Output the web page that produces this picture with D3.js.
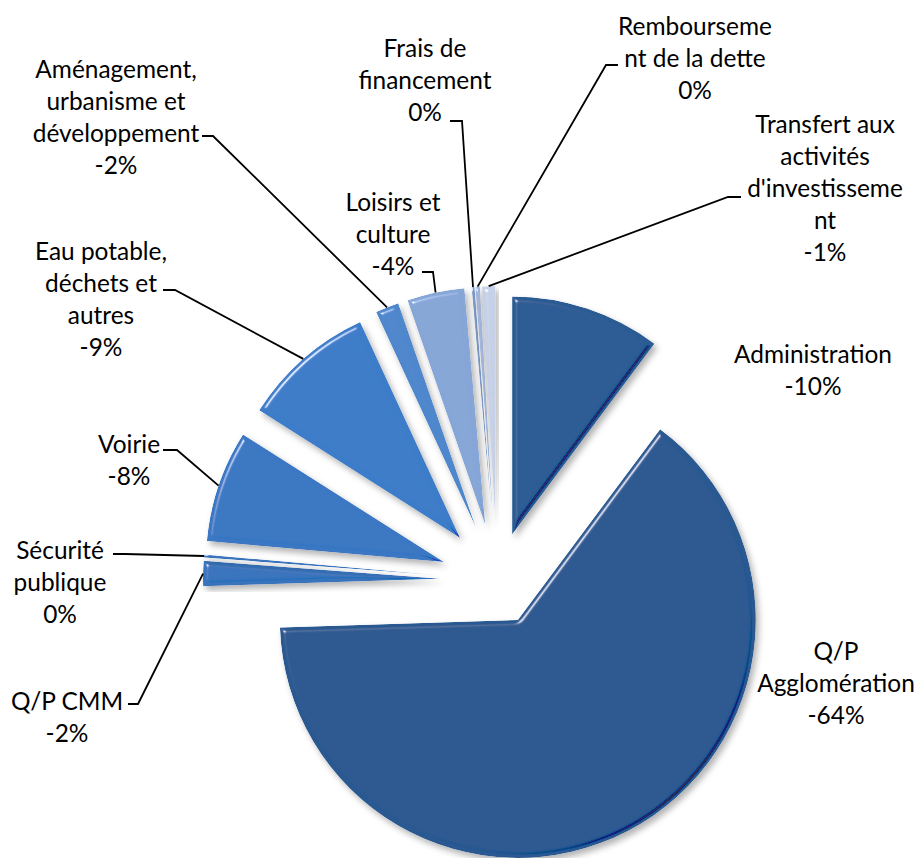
<!DOCTYPE html>
<html>
<head>
<meta charset="utf-8">
<script src="https://cdn.jsdelivr.net/npm/d3@7"></script>
<style>
  html, body { margin: 0; padding: 0; background: #fff; }
  svg { display: block; }
  text { font-family: Lato, "Open Sans", sans-serif; fill: #000; }
</style>
</head>
<body>
<svg id="chart" width="916" height="858"></svg>
<script>
// ---------- data ----------
const categories = [
  "Administration", "Q/P Agglomération", "Q/P CMM", "Sécurité publique", "Voirie",
  "Eau potable, déchets et autres", "Aménagement, urbanisme et développement",
  "Loisirs et culture", "Frais de financement", "Remboursement de la dette",
  "Transfert aux activités d'investissement"
];
// share of spending (negative values, in %)
const values = [-10.2, -64.3, -1.7, -0.2, -7.6, -9.1, -1.6, -3.9, -0.2, -0.3, -0.9];
// label text lines as wrapped in the original
const labelLines = [
  ["Administration"],
  ["Q/P", "Agglomération"],
  ["Q/P CMM"],
  ["Sécurité", "publique"],
  ["Voirie"],
  ["Eau potable,", "déchets et", "autres"],
  ["Aménagement,", "urbanisme et", "développement"],
  ["Loisirs et", "culture"],
  ["Frais de", "financement"],
  ["Rembourseme", "nt de la dette"],
  ["Transfert aux", "activités", "d'investisseme", "nt"]
];

// ---------- style / layout ----------
const colors = ["#2b5b93", "#2a5990", "#3873bc", "#3873bc", "#3a77c2", "#3d7cc8",
                "#4f87cc", "#86a6d7", "#7b97c4", "#a0b4d9", "#c6d1e7"];
const explode = [48, 45, 56, 56, 56, 56, 56, 56, 56, 56, 56];
const center = [497, 580];
const R = 238;
const lineH = 32;
// label block: x center, y of first line center, leader stub [from, to] (null = no leader)
const labelLayout = [
  {x: 813, y: 353, stub: null},
  {x: 836, y: 650, stub: null},
  {x: 67,  y: 700, stub: [[128, 704], [138, 704]]},
  {x: 60,  y: 549, stub: [[113, 554], [125, 554]]},
  {x: 129, y: 443, stub: [[163, 450], [177, 450]]},
  {x: 101, y: 250, stub: [[163, 290], [175, 290]]},
  {x: 116, y: 68,  stub: [[202, 136], [213, 136]]},
  {x: 393, y: 201, stub: [[422, 272], [433, 272]]},
  {x: 425, y: 47,  stub: [[450, 121], [462, 121]]},
  {x: 695, y: 25,  stub: [[618, 65], [606, 65]]},
  {x: 825, y: 123, stub: [[741, 197], [728, 197]]}
];

const total = d3.sum(values, v => Math.abs(v));
const pctText = v => `${Math.round(v / total * 100)}%`.replace(/^-0%$/, "0%");

const svg = d3.select("#chart");

// ---------- filters (bevel + drop shadow) ----------
const defs = svg.append("defs");
const f = defs.append("filter").attr("id", "bevel")
  .attr("x", "-20%").attr("y", "-20%").attr("width", "140%").attr("height", "140%");
f.append("feGaussianBlur").attr("in", "SourceAlpha").attr("stdDeviation", 2.5).attr("result", "blur");
// highlight from top-left
f.append("feSpecularLighting").attr("in", "blur").attr("surfaceScale", 4)
  .attr("specularConstant", 0.9).attr("specularExponent", 60)
  .attr("lighting-color", "#ffffff").attr("result", "spec")
  .append("feDistantLight").attr("azimuth", 225).attr("elevation", 40);
f.append("feComposite").attr("in", "spec").attr("in2", "SourceAlpha").attr("operator", "in").attr("result", "specIn");
// shade from bottom-right
f.append("feSpecularLighting").attr("in", "blur").attr("surfaceScale", 4)
  .attr("specularConstant", 0.9).attr("specularExponent", 60)
  .attr("lighting-color", "#ffffff").attr("result", "dark")
  .append("feDistantLight").attr("azimuth", 45).attr("elevation", 40);
f.append("feComposite").attr("in", "dark").attr("in2", "SourceAlpha").attr("operator", "in").attr("result", "darkIn");
f.append("feComposite").attr("in", "SourceGraphic").attr("in2", "specIn").attr("operator", "arithmetic")
  .attr("k1", 0).attr("k2", 1).attr("k3", 0.8).attr("k4", 0).attr("result", "lit1");
f.append("feComposite").attr("in", "lit1").attr("in2", "darkIn").attr("operator", "arithmetic")
  .attr("k1", 0).attr("k2", 1).attr("k3", -0.35).attr("k4", 0).attr("result", "lit");
f.append("feComposite").attr("in", "lit").attr("in2", "SourceAlpha").attr("operator", "in").attr("result", "litIn");
f.append("feGaussianBlur").attr("in", "SourceAlpha").attr("stdDeviation", 3).attr("result", "sblur");
f.append("feOffset").attr("in", "sblur").attr("dx", 3).attr("dy", 4).attr("result", "soff");
f.append("feFlood").attr("flood-color", "#000").attr("flood-opacity", 0.3).attr("result", "scol");
f.append("feComposite").attr("in", "scol").attr("in2", "soff").attr("operator", "in").attr("result", "shadow");
const m = f.append("feMerge");
m.append("feMergeNode").attr("in", "shadow");
m.append("feMergeNode").attr("in", "litIn");

// ---------- pie ----------
const pie = d3.pie().value(v => Math.abs(v)).sort(null).startAngle(0).endAngle(2 * Math.PI);
const arcs = pie(values);
const arcGen = d3.arc().innerRadius(0).outerRadius(R);

arcs.forEach((a, i) => {
  const mid = (a.startAngle + a.endAngle) / 2;
  a.apex = [center[0] + explode[i] * Math.sin(mid), center[1] - explode[i] * Math.cos(mid)];
  a.outer = [a.apex[0] + R * Math.sin(mid), a.apex[1] - R * Math.cos(mid)];
});

svg.append("g").selectAll("path")
  .data(arcs)
  .join("path")
  .attr("transform", d => `translate(${d.apex[0]},${d.apex[1]})`)
  .attr("d", arcGen)
  .attr("fill", (d, i) => colors[i])
  .attr("filter", "url(#bevel)");

// ---------- leaders ----------
const lg = svg.append("g").attr("fill", "none").attr("stroke", "#000").attr("stroke-width", 1.8);
arcs.forEach((a, i) => {
  const L = labelLayout[i];
  if (!L.stub) return;
  lg.append("path").attr("d", d3.line()([L.stub[0], L.stub[1], a.outer]));
});

// ---------- labels ----------
const probe = svg.append("text").attr("font-size", 22).text("Administration");
const w = probe.node().getComputedTextLength();
probe.remove();
const fontSize = 22 * 158 / w;

const tg = svg.append("g").attr("font-size", fontSize).attr("text-anchor", "middle");
arcs.forEach((a, i) => {
  const L = labelLayout[i];
  const lines = labelLines[i].concat([pctText(values[i])]);
  const t = tg.append("text");
  lines.forEach((s, k) => {
    t.append("tspan").attr("x", L.x).attr("y", L.y + k * lineH)
      .attr("dominant-baseline", "central").text(s);
  });
});
</script>
</body>
</html>
